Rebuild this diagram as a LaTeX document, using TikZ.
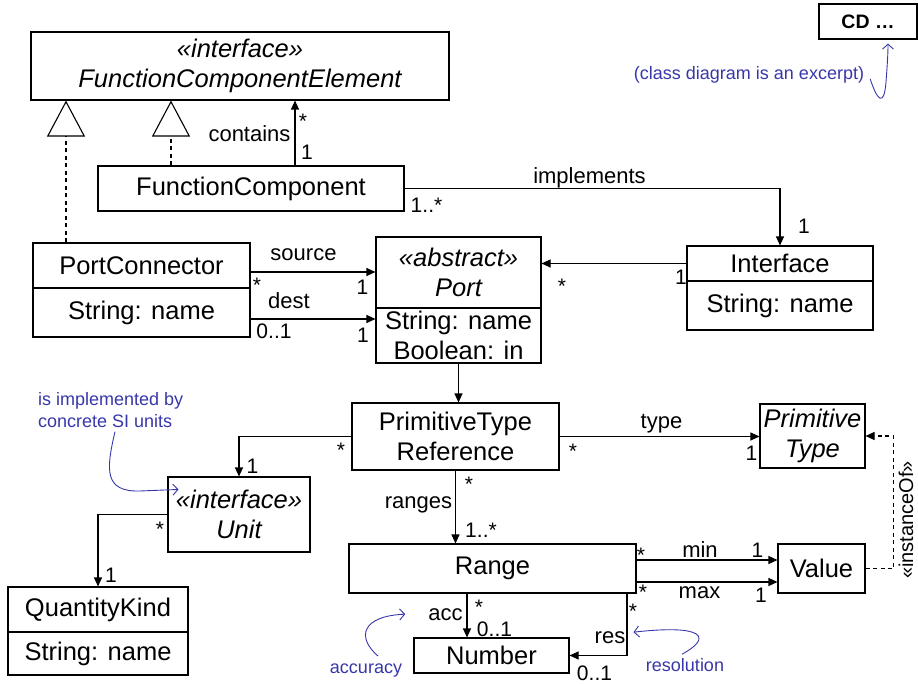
\documentclass[tikz,border=0pt]{standalone}
\usepackage{fontspec}
\setmainfont{Liberation Sans}
\usetikzlibrary{arrows.meta}
\definecolor{noteblue}{RGB}{55,55,170}
\begin{document}
\begin{tikzpicture}[x=1pt,y=-1pt,
  cls/.style={draw, line width=1.1pt, inner sep=1pt, align=center, font=\fontsize{25.5}{29.5}\selectfont},
  icls/.style={cls, font=\fontsize{25.5}{29.5}\selectfont\itshape},
  lbl/.style={inner sep=0pt, anchor=base, font=\fontsize{22}{24}\selectfont},
  mult/.style={inner sep=0pt, anchor=base, font=\fontsize{21}{23}\selectfont},
  assoc/.style={line width=1.1pt, -{Triangle[length=9pt,width=8pt]}},
  gen/.style={line width=1.1pt, dash pattern=on 4pt off 3.5pt, -{Triangle[open,length=36pt,width=38pt]}},
  dep/.style={line width=1.1pt, dash pattern=on 4pt off 3.5pt, -{Triangle[length=9pt,width=8pt]}},
  note/.style={text=noteblue, inner sep=0pt, font=\fontsize{18}{22}\selectfont},
  notearrow/.style={draw=noteblue, line width=0.9pt, -{Straight Barb[length=5pt,width=11pt]}}]
\useasboundingbox (0,0) rectangle (918,684);

% classes
\node[icls, minimum width=418pt, minimum height=68pt] (fce) at (240,66) {«interface»\\FunctionComponentElement};
\node[cls, minimum width=306pt, minimum height=45pt] (fc) at (251,188.5) {FunctionComponent};
\node[cls, minimum width=217pt, minimum height=45pt] (pc) at (141.5,265.5) {PortConnector};
\node[cls, minimum width=217pt, minimum height=49pt] (pca) at (141.5,312.5) {String: name};
\node[icls, minimum width=165pt, minimum height=71pt] (port) at (458.5,272.5) {«abstract»\\Port};
\node[cls, minimum width=165pt, minimum height=55pt] (porta) at (458.5,335.5) {String: name\\Boolean: in};
\node[cls, minimum width=186pt, minimum height=35pt] (intf) at (780,263.5) {Interface};
\node[cls, minimum width=186pt, minimum height=49pt] (intfa) at (780,305.5) {String: name};
\node[cls, minimum width=207pt, minimum height=67pt] (ptr) at (455.5,436.5) {PrimitiveType\\Reference};
\node[icls, minimum width=105pt, minimum height=64pt] (ptype) at (812.5,436) {Primitive\\Type};
\node[icls, minimum width=142pt, minimum height=75pt] (unit) at (239,514.5) {«interface»\\Unit};
\node[cls, minimum width=180pt, minimum height=45pt] (qk) at (98,609.5) {QuantityKind};
\node[cls, minimum width=180pt, minimum height=43pt] (qka) at (98,653.5) {String: name};
\node[cls, minimum width=287pt, minimum height=49pt] (range) at (492.5,568.5) {Range};
\node[cls, minimum width=87pt, minimum height=49pt] (value) at (821.5,568.5) {Value};
\node[cls, minimum width=155pt, minimum height=35pt] (num) at (491.5,655.5) {Number};
\node[cls, minimum width=98pt, minimum height=35pt, font=\fontsize{19.5}{22}\selectfont\bfseries] (cd) at (868,21.5) {CD …};

% helper coordinates
\coordinate (g1) at ([xshift=-75.5pt]pc.north);
\coordinate (g2) at ([xshift=-80pt]fc.north);
\coordinate (c1) at ([xshift=44pt]fc.north);
\coordinate (s1) at ([yshift=-6.5pt]pc.east);
\coordinate (d1) at ([yshift=-6.5pt]pca.east);
\coordinate (m1) at ([yshift=8.5pt]range.east);
\coordinate (m2) at ([yshift=-13.5pt]range.east);
\coordinate (io) at ([xshift=28pt]value.east);
\coordinate (a1) at ([xshift=-25.5pt]range.south);
\coordinate (r1) at ([xshift=134.5pt]range.south);

% connectors
\draw[gen] (g1) -- (g1 |- fce.south);
\draw[gen] (g2) -- (g2 |- fce.south);
\draw[assoc] (c1) -- (c1 |- fce.south);
\draw[assoc] (fc.east) -| (intf.north);
\draw[assoc] (intf.west) -- (intf.west -| port.east);
\draw[assoc] (s1) -- (s1 -| port.west);
\draw[assoc] (d1) -- (d1 -| porta.west);
\draw[assoc] (porta.south) -- (porta.south |- ptr.north);
\draw[assoc] (ptr.west) -| (unit.north);
\draw[assoc] (unit.west) -| (qk.north);
\draw[assoc] (ptr.east) -- (ptr.east -| ptype.west);
\draw[assoc] (ptr.south) -- (ptr.south |- range.north);
\draw[assoc] (m1) -- (m1 -| value.west);
\draw[assoc] (m2) -- (m2 -| value.west);
\draw[dep] (value.east) -- (io) |- (ptype.east);
\draw[assoc] (a1) -- (a1 |- num.north);
\draw[assoc] (r1) |- (num.east);

% association labels
\node[lbl] (l1) at (249.5,142) {contains};
\node[lbl] (l2) at (589.5,184) {implements};
\node[lbl] (l3) at (303.5,261) {source};
\node[lbl] (l4) at (289,309) {dest};
\node[lbl] (l5) at (661.5,428) {type};
\node[lbl] (l6) at (418.5,508.5) {ranges};
\node[lbl] (l7) at (700,557) {min};
\node[lbl] (l8) at (699.5,598) {max};
\node[lbl] (l9) at (445.5,620) {acc};
\node[lbl] (l10) at (610,643) {res};
\node[inner sep=0pt, rotate=90, font=\fontsize{20}{22}\selectfont] (l11) at (906,520) {«instanceOf»};

% multiplicities
\node[mult] (m01) at (303,129) {*};
\node[mult] (m02) at (307,160) {1};
\node[mult] (m03) at (426.5,213) {1..*};
\node[mult] (m04) at (804,234) {1};
\node[mult] (m05) at (681,285) {1};
\node[mult] (m06) at (562,294) {*};
\node[mult] (m07) at (257,293) {*};
\node[mult] (m08) at (362.5,295) {1};
\node[mult] (m09) at (274,339) {0..1};
\node[mult] (m10) at (363,343) {1};
\node[mult] (m11) at (341,457) {*};
\node[mult] (m12) at (252.5,473) {1};
\node[mult] (m13) at (573,458) {*};
\node[mult] (m14) at (751.5,460) {1};
\node[mult] (m15) at (469,491) {*};
\node[mult] (m16) at (481,537) {1..*};
\node[mult] (m17) at (160,536) {*};
\node[mult] (m18) at (111,582) {1};
\node[mult] (m19) at (641,562) {*};
\node[mult] (m20) at (757.5,557) {1};
\node[mult] (m21) at (643,599) {*};
\node[mult] (m22) at (761,602) {1};
\node[mult] (m23) at (479,614) {*};
\node[mult] (m24) at (494.5,636) {0..1};
\node[mult] (m25) at (633,618) {*};
\node[mult] (m26) at (594.5,680.5) {0..1};

% notes
\node[note] (n1) at (749,75) {(class diagram is an excerpt)};
\node[note, align=left, anchor=north west] (n2) at (38,392) {is implemented by\\concrete SI units};
\node[note] (n3) at (366,671) {accuracy};
\node[note] (n4) at (685,665) {resolution};

\coordinate (na1) at ([xshift=6pt,yshift=-4pt]n1.east);
\coordinate (na1e) at ([xshift=20pt,yshift=-4pt]cd.south);
\coordinate (na2) at ([xshift=77pt,yshift=-4pt]n2.south west);
\coordinate (na2e) at ([xshift=11pt,yshift=-13pt]unit.north west);
\coordinate (na3) at ([xshift=12pt,yshift=8pt]n3.north);
\coordinate (na3e) at ([xshift=-23pt]l9.west);
\coordinate (na4) at ([xshift=-3pt,yshift=4pt]n4.north);
\coordinate (na4e) at ([xshift=8pt,yshift=5pt]l10.east);

\draw[notearrow] (na1) .. controls (877,100) and (884,108) .. (886,82) .. controls (887,68) and (888,56) .. (na1e);
\draw[notearrow] (na2) .. controls (106,470) and (104,492) .. (140,491) -- (na2e);
\draw[notearrow] (na3) .. controls (356,637) and (362,616) .. (na3e);
\draw[notearrow] (na4) .. controls (712,638) and (706,624) .. (na4e);
\end{tikzpicture}
\end{document}
